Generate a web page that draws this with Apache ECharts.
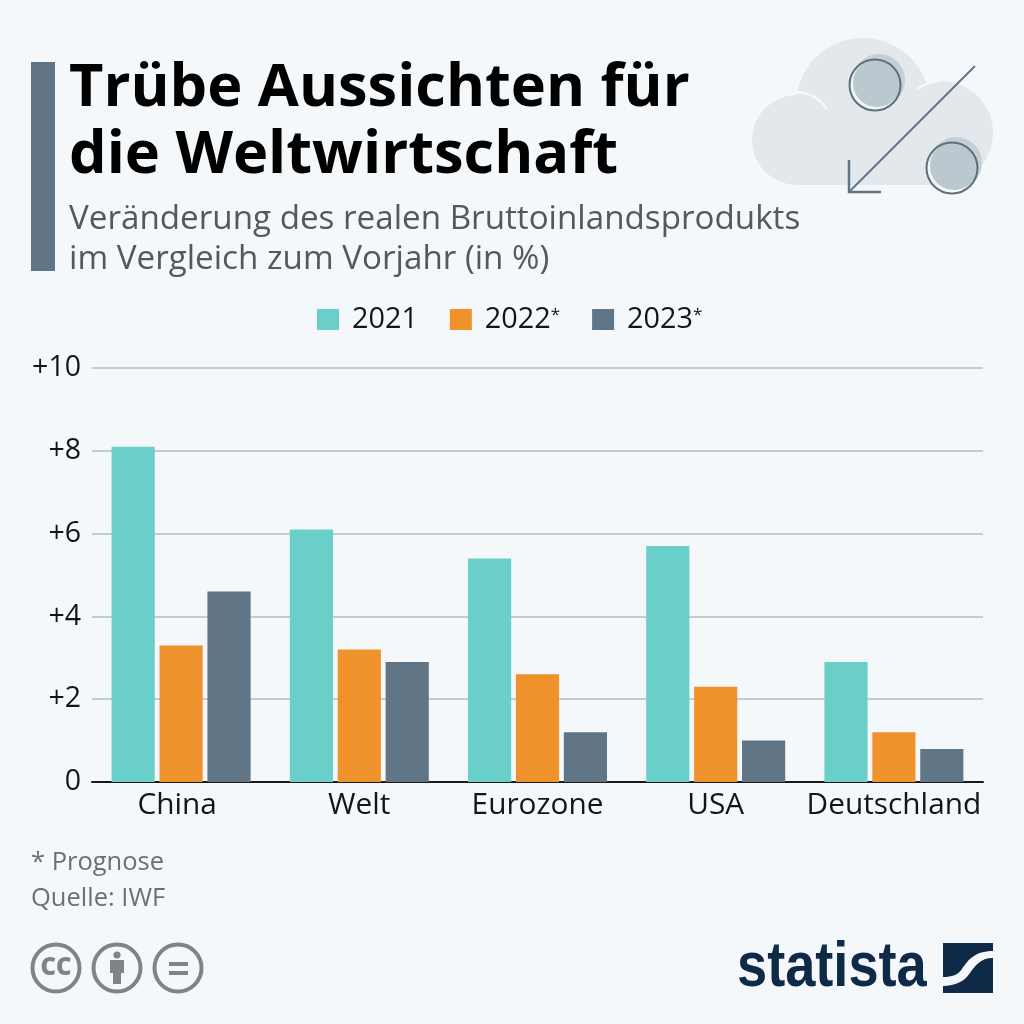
<!DOCTYPE html>
<html lang="de">
<head>
<meta charset="utf-8">
<title>Trübe Aussichten für die Weltwirtschaft</title>
<script src="https://cdn.jsdelivr.net/npm/echarts@6/dist/echarts.min.js"></script>
<style>
    html, body { margin: 0; padding: 0; background: #f5f8fb; }
    #chart { width: 1024px; height: 1024px; }
</style>
</head>
<body>
<div id="chart"></div>
<script>
// Daten
const categories = ['China', 'Welt', 'Eurozone', 'USA', 'Deutschland']
const values2021 = [8.1, 6.1, 5.4, 5.7, 2.9]
const values2022 = [3.3, 3.2, 2.6, 2.3, 1.2]
const values2023 = [4.6, 2.9, 1.2, 1.0, 0.8]

const FONT = '"Open Sans", sans-serif'
const TEAL = '#6bcfc9'
const ORANGE = '#f0922b'
const SLATE = '#607585'
const BG = '#f5f8fb'
const ICON_GREY = '#7f8585'
const NAVY = '#0f2a47'
const INK = '#151515'

// graphic kennt kein type: 'path', deshalb als eigene Formen registrieren
const registerPath = (name, pathData) => {
    echarts.graphic.registerShape(name, echarts.graphic.extendPath(pathData, {}))
}
registerPath('logoTop', 'M943,943 L993,943 L993,951 C975,951 968,960 962,969 C958,975 952,977 943,977 Z')
registerPath('logoBottom', 'M993,958 C980,958 975,966 970,973 C965,981 955,986 943,986 L943,993 L993,993 Z')

const chart = echarts.init(document.getElementById('chart'))

const makeSeries = (name, data, color) => ({
    name,
    type: 'bar',
    data,
    barGap: '11%',
    barCategoryGap: '22%',
    itemStyle: { color },
    emphasis: { disabled: true }
})

// Wolke + Prozentzeichen oben rechts
const cloudColor = '#e3e8ec'
const coin = (cx, cy) => [
    { type: 'circle', shape: { cx: cx + 4, cy: cy - 5, r: 26 }, style: { fill: '#c5cfd5' } },
    { type: 'circle', shape: { cx: cx, cy: cy, r: 25.5 }, style: { fill: BG, opacity: 0.7 } },
    { type: 'circle', shape: { cx: cx + 2, cy: cy - 2, r: 24 }, style: { fill: '#bcc8cf' } },
    { type: 'circle', shape: { cx: cx, cy: cy, r: 25.5 }, style: { fill: 'none', stroke: '#5f6f7a', lineWidth: 2 } }
]
const cloud = [
    { type: 'circle', shape: { cx: 797, cy: 140, r: 45 }, style: { fill: cloudColor } },
    { type: 'circle', shape: { cx: 863, cy: 105, r: 67 }, style: { fill: cloudColor } },
    { type: 'circle', shape: { cx: 941, cy: 133, r: 52 }, style: { fill: cloudColor } },
    { type: 'rect', shape: { x: 797, y: 120, width: 144, height: 65 }, style: { fill: cloudColor } },
    { type: 'bezierCurve', shape: { x1: 797, y1: 92, cpx1: 811, cpy1: 93, cpx2: 821, cpy2: 100, x2: 827, y2: 109 }, style: { fill: 'none', stroke: BG, lineWidth: 2.5 } },
    { type: 'bezierCurve', shape: { x1: 917, y1: 89, cpx1: 924, cpy1: 84, cpx2: 932, cpy2: 81, x2: 941, y2: 81 }, style: { fill: 'none', stroke: BG, lineWidth: 2.5 } },
    ...coin(875, 85),
    ...coin(952, 168),
    { type: 'polyline', shape: { points: [[975, 66], [849, 192]] }, style: { stroke: SLATE, lineWidth: 2, fill: 'none' } },
    { type: 'polyline', shape: { points: [[849, 160], [849, 192], [881, 192]] }, style: { stroke: SLATE, lineWidth: 2.5, fill: 'none' } }
]

// CC-Symbole unten links
const ccRing = cx => ({ type: 'circle', shape: { cx, cy: 968, r: 23.5 }, style: { fill: 'none', stroke: ICON_GREY, lineWidth: 4 } })
const ccIcons = [
    ccRing(56),
    ccRing(117),
    ccRing(178),
    { type: 'text', x: 56, y: 968, style: { text: 'CC', fill: ICON_GREY, font: '800 24px "Open Sans"', align: 'center', verticalAlign: 'middle' } },
    { type: 'circle', shape: { cx: 117, cy: 955, r: 3.6 }, style: { fill: ICON_GREY } },
    { type: 'polygon', shape: { points: [[110, 960], [124, 960], [124, 973], [121, 973], [121, 984], [113, 984], [113, 973], [110, 973]] }, style: { fill: ICON_GREY } },
    { type: 'rect', shape: { x: 169, y: 962, width: 19, height: 4 }, style: { fill: ICON_GREY } },
    { type: 'rect', shape: { x: 169, y: 971, width: 19, height: 4 }, style: { fill: ICON_GREY } }
]

// Statista-Logo
const logo = [
    { type: 'text', x: 737, y: 969, scaleX: 0.86, style: { text: 'statista', fill: NAVY, font: 'bold 63px "Liberation Sans"', verticalAlign: 'middle' } },
    { type: 'logoTop', style: { fill: NAVY } },
    { type: 'logoBottom', style: { fill: NAVY } }
]

const option = {
    backgroundColor: BG,
    animation: false,
    textStyle: { fontFamily: FONT },
    title: [
        {
            text: 'Trübe Aussichten für\ndie Weltwirtschaft',
            left: 69, top: 56,
            padding: 0,
            textStyle: { fontFamily: FONT, fontSize: 59.5, fontWeight: 700, color: '#000', lineHeight: 67 }
        },
        {
            text: 'Veränderung des realen Bruttoinlandsprodukts\nim Vergleich zum Vorjahr (in %)',
            left: 69, top: 200,
            padding: 0,
            textStyle: { fontFamily: FONT, fontSize: 33.2, fontWeight: 400, color: '#54595e', lineHeight: 40 }
        },
        {
            text: '* Prognose\nQuelle: IWF',
            left: 31, top: 845,
            padding: 0,
            textStyle: { fontFamily: FONT, fontSize: 25.5, fontWeight: 400, color: '#6a7075', lineHeight: 36 }
        }
    ],
    legend: {
        left: 317, top: 305,
        padding: 0,
        itemWidth: 22, itemHeight: 21,
        itemGap: 32,
        icon: 'rect',
        selectedMode: false,
        // 2021 hat keinen Stern, rechts etwas mehr Luft
        data: [
            { name: '2021', textStyle: { padding: [0, 10, 0, 8] } },
            { name: '2022*', textStyle: { padding: [0, 2, 0, 8] } },
            { name: '2023*' }
        ],
        formatter: name => name.endsWith('*') ? `{y|${name.slice(0, -1)}}{s|*}` : `{y|${name}}`,
        textStyle: {
            padding: [0, 0, 0, 8],
            rich: {
                y: { fontFamily: FONT, fontSize: 28.8, color: INK, lineHeight: 24 },
                s: { fontFamily: FONT, fontSize: 17, color: INK, lineHeight: 24, padding: [0, 0, 9, 0] }
            }
        }
    },
    grid: { left: 92, right: 41, top: 368, bottom: 242 },
    xAxis: {
        type: 'category',
        // China sitzt im Original etwas links der Mitte
        data: categories.map(c => c === 'China' ? { value: c, textStyle: { padding: [0, 8, 0, 0] } } : c),
        axisTick: { show: false },
        axisLine: { lineStyle: { color: '#1a1a1a', width: 2 } },
        axisLabel: { fontFamily: FONT, fontSize: 29.8, color: INK, margin: 9, interval: 0 }
    },
    yAxis: {
        type: 'value',
        min: 0,
        max: 10,
        interval: 2,
        axisLine: { show: false },
        axisTick: { show: false },
        splitLine: { lineStyle: { color: '#c3ccd3', width: 2 } },
        axisLabel: {
            fontFamily: FONT,
            fontSize: 28.5,
            color: INK,
            margin: 11,
            formatter: v => v > 0 ? '+' + v : '0'
        }
    },
    series: [
        makeSeries('2021', values2021, TEAL),
        makeSeries('2022*', values2022, ORANGE),
        makeSeries('2023*', values2023, SLATE)
    ],
    graphic: [
        { type: 'rect', shape: { x: 31, y: 62, width: 24, height: 209 }, style: { fill: SLATE } },
        ...cloud,
        ...ccIcons,
        ...logo
    ]
}

chart.setOption(option)
</script>
</body>
</html>
